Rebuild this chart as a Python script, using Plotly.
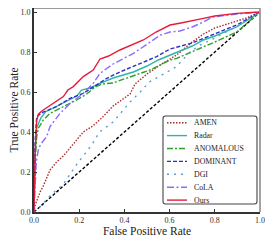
import plotly.graph_objects as go

# ---------------- data ----------------
series_names = ["AMEN", "Radar", "ANOMALOUS", "DOMINANT", "DGI", "CoLA", "Ours"]

amen_fpr = [0, 0.004, 0.027, 0.041, 0.071, 0.1, 0.13, 0.174, 0.218, 0.26, 0.3, 0.35, 0.4, 0.425, 0.447, 0.5, 0.558, 0.631, 0.7, 0.75, 0.8, 0.9, 0.94, 1.0]
amen_tpr = [0, 0.03, 0.10, 0.13, 0.21, 0.25, 0.28, 0.34, 0.40, 0.43, 0.47, 0.53, 0.57, 0.59, 0.64, 0.69, 0.735, 0.785, 0.85, 0.89, 0.92, 0.955, 0.97, 1.0]

radar_fpr = [0, 0.005, 0.012, 0.03, 0.05, 0.1, 0.15, 0.19, 0.21, 0.248, 0.292, 0.35, 0.44, 0.5, 0.55, 0.631, 0.7, 0.75, 0.8, 0.897, 1.0]
radar_tpr = [0, 0.30, 0.42, 0.47, 0.50, 0.53, 0.56, 0.58, 0.61, 0.62, 0.643, 0.67, 0.70, 0.73, 0.76, 0.80, 0.83, 0.86, 0.88, 0.925, 1.0]

anom_fpr = [0, 0.005, 0.012, 0.02, 0.041, 0.071, 0.13, 0.189, 0.233, 0.27, 0.3, 0.35, 0.381, 0.44, 0.513, 0.55, 0.602, 0.631, 0.7, 0.75, 0.8, 0.897, 1.0]
anom_tpr = [0, 0.25, 0.377, 0.42, 0.46, 0.493, 0.527, 0.56, 0.59, 0.625, 0.64, 0.645, 0.658, 0.68, 0.71, 0.73, 0.76, 0.768, 0.80, 0.827, 0.85, 0.90, 1.0]

dom_fpr = [0, 0.005, 0.012, 0.041, 0.1, 0.159, 0.218, 0.277, 0.322, 0.38, 0.44, 0.5, 0.543, 0.602, 0.7, 0.75, 0.8, 0.897, 1.0]
dom_tpr = [0, 0.35, 0.477, 0.50, 0.527, 0.568, 0.593, 0.635, 0.668, 0.70, 0.727, 0.755, 0.777, 0.815, 0.845, 0.868, 0.89, 0.935, 1.0]

dgi_fpr = [0, 0.03, 0.07, 0.13, 0.19, 0.255, 0.29, 0.35, 0.395, 0.425, 0.47, 0.51, 0.59, 0.63, 0.69, 0.735, 0.8, 0.9, 1.0]
dgi_tpr = [0, 0.03, 0.08, 0.14, 0.24, 0.335, 0.40, 0.45, 0.51, 0.55, 0.60, 0.65, 0.70, 0.727, 0.80, 0.835, 0.87, 0.93, 1.0]

cola_fpr = [0, 0.005, 0.01, 0.019, 0.03, 0.056, 0.071, 0.115, 0.16, 0.218, 0.262, 0.292, 0.35, 0.44, 0.5, 0.528, 0.56, 0.602, 0.646, 0.7, 0.75, 0.79, 0.85, 0.9, 1.0]
cola_tpr = [0, 0.15, 0.25, 0.31, 0.34, 0.377, 0.427, 0.493, 0.543, 0.593, 0.643, 0.693, 0.74, 0.793, 0.84, 0.86, 0.885, 0.90, 0.905, 0.925, 0.95, 0.975, 0.985, 0.99, 1.0]

ours_fpr = [0, 0.005, 0.012, 0.02, 0.041, 0.085, 0.13, 0.15, 0.174, 0.218, 0.262, 0.292, 0.33, 0.38, 0.43, 0.484, 0.54, 0.602, 0.65, 0.7, 0.75, 0.8, 0.897, 1.0]
ours_tpr = [0, 0.30, 0.46, 0.49, 0.51, 0.543, 0.577, 0.61, 0.627, 0.677, 0.71, 0.765, 0.78, 0.81, 0.835, 0.86, 0.90, 0.935, 0.945, 0.955, 0.968, 0.98, 0.993, 1.0]

diag_fpr = [0, 1]
diag_tpr = [0, 1]

tick_vals = [0.0, 0.2, 0.4, 0.6, 0.8, 1.0]
tick_text = ["0.0", "0.2", "0.4", "0.6", "0.8", "1.0"]

# ---------------- styles ----------------
colors = ["#a8302c", "#2fb5a8", "#2fa02a", "#2e2ec8", "#5a9cd8", "#8a6cff", "#e41c3c"]
dashes = ["1.5px,1.5px", "solid", "6px,2px,2px,2px", "4px,2px", "2px,5px", "7px,2.5px,2px,2.5px", "solid"]
xs = [amen_fpr, radar_fpr, anom_fpr, dom_fpr, dgi_fpr, cola_fpr, ours_fpr]
ys = [amen_tpr, radar_tpr, anom_tpr, dom_tpr, dgi_tpr, cola_tpr, ours_tpr]

SERIF = "Liberation Serif"

fig = go.Figure()
fig.add_trace(go.Scatter(x=diag_fpr, y=diag_tpr, mode="lines",
                         line=dict(color="black", width=1.4, dash="3px,2px"),
                         showlegend=False, hoverinfo="skip"))
for name, x, y, c, d in zip(series_names, xs, ys, colors, dashes):
    fig.add_trace(go.Scatter(x=x, y=y, mode="lines", name=name,
                             line=dict(color=c, width=1.4, dash=d),
                             showlegend=False))

# page body has an 8px margin: the figure is placed at (8, 8) in the window
OFF = 8
W, H = 273 - OFF, 245 - OFF
# plot area in window pixels: x 34..260, y 8..212
L, R, T, B = 34 - OFF, 13, 8 - OFF, 33
pw, ph = W - L - R, H - T - B

def px_x(p):  # window pixel -> paper
    return (p - OFF - L) / pw

def px_y(p):
    return (OFF + T + ph - p) / ph

shapes = []
shapes.append(dict(type="line", xref="paper", yref="paper", x0=0, x1=1, y0=1, y1=1,
                   line=dict(color="#9a9a9a", width=1.8)))
shapes.append(dict(type="line", xref="paper", yref="paper", x0=1, x1=1, y0=0, y1=1,
                   line=dict(color="#9a9a9a", width=1.8)))

# legend box with rounded corners
bx0, bx1, by0, by1 = 163, 257, 116, 204
r = 2.5
rx, ry = r / pw, r / ph
X0, X1, Y0, Y1 = px_x(bx0), px_x(bx1), px_y(by1), px_y(by0)
path = (f"M {X0+rx},{Y1} L {X1-rx},{Y1} Q {X1},{Y1} {X1},{Y1-ry} "
        f"L {X1},{Y0+ry} Q {X1},{Y0} {X1-rx},{Y0} L {X0+rx},{Y0} "
        f"Q {X0},{Y0} {X0},{Y0+ry} L {X0},{Y1-ry} Q {X0},{Y1} {X0+rx},{Y1} Z")
shapes.append(dict(type="path", xref="paper", yref="paper", path=path,
                   line=dict(color="#444444", width=1.1), fillcolor="white", layer="above"))

annotations = []
row0, row_gap = 122.7, 12.9
for i, (name, c, d) in enumerate(zip(series_names, colors, dashes)):
    yy = px_y(row0 + i * row_gap)
    shapes.append(dict(type="line", xref="paper", yref="paper",
                       x0=px_x(167), x1=px_x(187), y0=yy, y1=yy,
                       line=dict(color=c, width=1.4, dash=d), layer="above"))
    annotations.append(dict(text=name, xref="paper", yref="paper", x=px_x(192), y=yy,
                            xanchor="left", yanchor="middle", showarrow=False,
                            font=dict(family=SERIF, size=7.8, color="#222")))

fig.update_layout(
    width=W, height=H,
    margin=dict(l=L, r=R, t=T, b=B, pad=0),
    paper_bgcolor="white", plot_bgcolor="white",
    showlegend=False,
    shapes=shapes, annotations=annotations,
    font=dict(family=SERIF, color="#222"),
    xaxis=dict(range=[0, 1], tickvals=tick_vals, ticktext=tick_text,
               ticks="inside", ticklen=3, tickwidth=1, tickcolor="#333",
               showline=True, linecolor="#333", linewidth=1.6,
               showgrid=False, zeroline=False, ticklabeloverflow="allow",
               tickfont=dict(family=SERIF, size=8, color="#333"),
               title=dict(text="False Positive Rate", font=dict(family=SERIF, size=11.5, color="#222"),
                          standoff=1),
               automargin=False),
    yaxis=dict(range=[0, 1.02], tickvals=tick_vals, ticktext=tick_text,
               ticks="inside", ticklen=3, tickwidth=1, tickcolor="#333",
               showline=True, linecolor="#333", linewidth=1.6,
               showgrid=False, zeroline=False, ticklabeloverflow="allow",
               tickfont=dict(family=SERIF, size=8, color="#333"),
               title=dict(text="True Positive Rate", font=dict(family=SERIF, size=11.5, color="#222"),
                          standoff=2),
               automargin=False),
)

fig.write_html("out.html")
